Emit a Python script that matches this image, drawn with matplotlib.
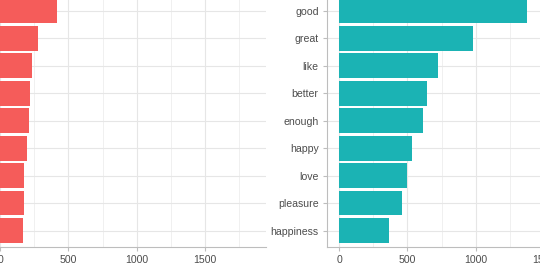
import matplotlib.pyplot as plt
from matplotlib.ticker import MultipleLocator

plt.rcParams['font.family'] = ['Liberation Sans', 'DejaVu Sans']

# left facet (labels fall outside the visible crop)
neg_n = [419, 276, 232, 219, 212, 198, 176, 176, 166]

# right facet
pos_words = ["good", "great", "like", "better", "enough",
             "happy", "love", "pleasure", "happiness"]
pos_n = [1374, 978, 725, 640, 613, 535, 496, 462, 365]

W, H = 540, 268
fig = plt.figure(figsize=(W / 100, H / 100), dpi=100)

def panel(x0, values, labels, color):
    ax = fig.add_axes([x0 / W, 21 / H, 278 / W, 252.6 / H])
    pos = list(range(len(values), 0, -1))
    ax.barh(pos, values, height=0.9, color=color, zorder=2)
    ax.set_xlim(-88, 1944)
    ax.set_ylim(0.4, len(values) + 0.6)
    ax.xaxis.set_major_locator(MultipleLocator(500))
    ax.xaxis.set_minor_locator(MultipleLocator(250))
    ax.set_yticks(pos)
    ax.set_yticklabels(labels)
    ax.grid(True, which='major', color='#e6e6e6', lw=0.8, zorder=0)
    ax.grid(True, which='minor', axis='x', color='#eeeeee', lw=0.6, zorder=0)
    for s in ['top', 'right']:
        ax.spines[s].set_visible(False)
    for s in ['left', 'bottom']:
        ax.spines[s].set_color('#bdbdbd')
        ax.spines[s].set_linewidth(0.8)
    ax.tick_params(which='major', colors='#bdbdbd', length=3, width=0.8,
                   labelcolor='#4d4d4d', labelsize=7.6, pad=3)
    ax.tick_params(which='minor', length=0)
    return ax

panel(-12, neg_n, [""] * len(neg_n), "#f55c5a")
panel(327, pos_n, pos_words, "#1bb3b4")

fig.savefig("out.png", dpi=100)
